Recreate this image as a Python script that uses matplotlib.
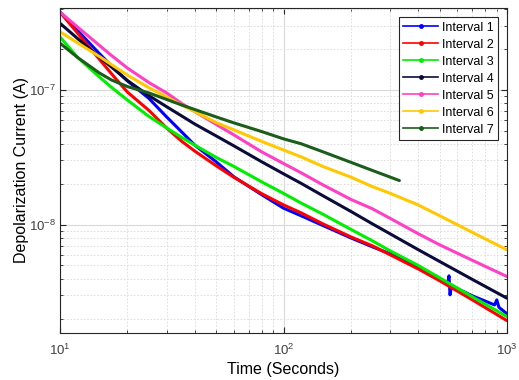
import numpy as np
import matplotlib
matplotlib.use('Agg')
import matplotlib.pyplot as plt
from matplotlib.lines import Line2D

plt.rcParams['font.family'] = ['Liberation Sans', 'DejaVu Sans']

# time grid (s)
t = [10, 12, 15, 17, 20, 25, 30, 35, 40, 50, 60, 80, 100, 120, 150, 200, 250, 300, 400, 500, 700, 1000]

i2 = [3.78e-7, 2.63e-7, 1.69e-7, 1.318e-7, 9.66e-8, 7.05e-8, 5.22e-8, 4.17e-8, 3.53e-8, 2.74e-8, 2.25e-8,
      1.70e-8, 1.406e-8, 1.227e-8, 1.017e-8, 8.15e-9, 6.99e-9, 6.00e-9, 4.72e-9, 3.85e-9, 2.78e-9, 1.95e-9]
i3 = [2.47e-7, 1.74e-7, 1.248e-7, 1.045e-7, 8.43e-8, 6.36e-8, 5.23e-8, 4.45e-8, 3.91e-8, 3.16e-8, 2.71e-8,
      2.08e-8, 1.711e-8, 1.45e-8, 1.199e-8, 9.27e-9, 7.61e-9, 6.42e-9, 5.01e-9, 4.05e-9, 2.93e-9, 2.09e-9]
i4 = [3.12e-7, 2.40e-7, 1.755e-7, 1.478e-7, 1.176e-7, 9.07e-8, 7.51e-8, 6.42e-8, 5.60e-8, 4.56e-8, 3.85e-8,
      2.93e-8, 2.39e-8, 2.03e-8, 1.645e-8, 1.259e-8, 1.017e-8, 8.58e-9, 6.56e-9, 5.35e-9, 3.94e-9, 2.86e-9]
i5 = [3.78e-7, 2.92e-7, 2.14e-7, 1.80e-7, 1.455e-7, 1.134e-7, 9.50e-8, 7.94e-8, 6.93e-8, 5.55e-8, 4.64e-8,
      3.47e-8, 2.85e-8, 2.43e-8, 1.98e-8, 1.545e-8, 1.315e-8, 1.117e-8, 8.61e-9, 7.11e-9, 5.46e-9, 4.14e-9]
i6 = [2.70e-7, 2.23e-7, 1.77e-7, 1.54e-7, 1.29e-7, 1.038e-7, 8.87e-8, 7.74e-8, 6.93e-8, 5.73e-8, 5.06e-8,
      4.15e-8, 3.59e-8, 3.19e-8, 2.71e-8, 2.26e-8, 1.92e-8, 1.714e-8, 1.406e-8, 1.168e-8, 8.79e-9, 6.53e-9]

# interval 1: smooth part up to 400 s, then a noisy tail
t1 = [10, 12, 15, 17, 20, 25, 30, 35, 40, 50, 60, 80, 100, 120, 150, 200, 250, 300, 400,
      500, 543, 550, 556, 565, 700, 880, 900, 920, 1000]
i1 = [3.78e-7, 2.75e-7, 1.86e-7, 1.505e-7, 1.17e-7, 8.65e-8, 6.31e-8, 4.89e-8, 3.91e-8, 2.93e-8, 2.27e-8,
      1.67e-8, 1.33e-8, 1.167e-8, 9.9e-9, 8.01e-9, 6.87e-9, 6.10e-9, 4.79e-9,
      3.98e-9, 3.66e-9, 4.19e-9, 3.03e-9, 3.53e-9, 2.98e-9, 2.55e-9, 2.78e-9, 2.45e-9, 2.19e-9]

# interval 7 stops early
t7 = [10, 12, 15, 17, 20, 25, 30, 35, 40, 50, 60, 80, 100, 120, 150, 200, 250, 300, 330]
i7 = [2.22e-7, 1.738e-7, 1.336e-7, 1.185e-7, 1.06e-7, 9.50e-8, 8.50e-8, 7.74e-8, 7.17e-8, 6.31e-8, 5.70e-8,
      4.91e-8, 4.34e-8, 3.99e-8, 3.48e-8, 2.91e-8, 2.53e-8, 2.26e-8, 2.13e-8]

labels = ['Interval 1', 'Interval 2', 'Interval 3', 'Interval 4',
          'Interval 5', 'Interval 6', 'Interval 7']
colors = ['#0000ff', '#ff0000', '#00ee00', '#0b0b3b', '#ff3fc4', '#ffc800', '#1b5e1b']

fig = plt.figure(figsize=(5.19, 3.80), dpi=100)
ax = fig.add_axes([0.1156, 0.1237, 0.8613, 0.8553])

series = [(t1, i1), (t, i2), (t, i3), (t, i4), (t, i5), (t, i6), (t7, i7)]
for (x, y), c in zip(series, colors):
    ax.plot(x, y, color=c, lw=2.2, solid_capstyle='round', solid_joinstyle='round')

ax.set_xscale('log')
ax.set_yscale('log')
ax.set_xlim(10, 1000)
ax.set_ylim(1.58e-9, 4.05e-7)

ax.grid(True, which='major', color='#d9d9d9', lw=0.8, ls='-')
ax.grid(True, which='minor', color='#d9d9d9', lw=0.6, ls=(0, (2, 2)))
ax.set_axisbelow(True)

ax.tick_params(which='both', direction='in', top=True, right=True, colors='#262626',
               labelcolor='#404040', labelsize=9.5)
ax.tick_params(which='major', length=4)
ax.tick_params(which='minor', length=2)
ax.tick_params(axis='x', which='major', pad=7)
ax.tick_params(axis='y', which='major', pad=3)
for s in ax.spines.values():
    s.set_color('#262626')
    s.set_linewidth(0.8)

ax.set_xlabel('Time (Seconds)', fontsize=11.5, labelpad=3)
ax.set_ylabel('Depolarization Current (A)', fontsize=11.5, labelpad=0)

handles = [Line2D([0], [0], color=c, lw=1.2, marker='.', markersize=5) for c in colors]
leg = ax.legend(handles, labels, loc='upper right', fontsize=9, labelspacing=0.4,
                handlelength=2.8, handletextpad=0.25, borderpad=0.35,
                borderaxespad=0.75, fancybox=False, framealpha=1)
leg.get_frame().set_edgecolor('#262626')
leg.get_frame().set_linewidth(0.8)

fig.savefig('out.png', dpi=100)
